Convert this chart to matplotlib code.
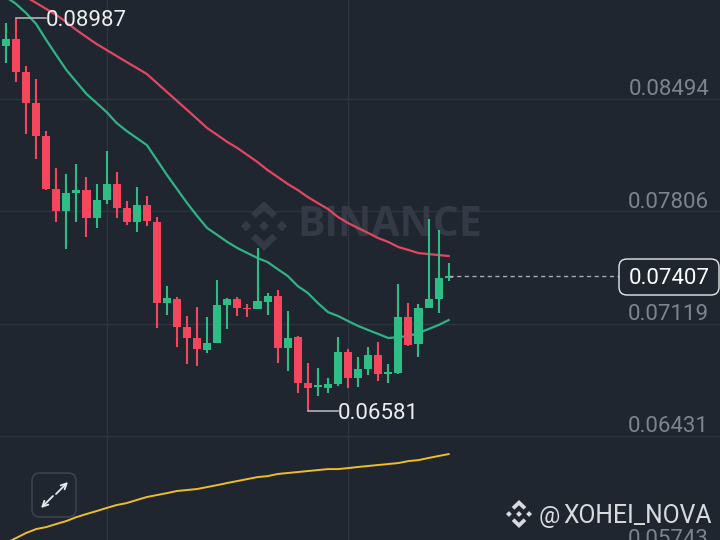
import matplotlib
matplotlib.use("Agg")
import matplotlib.pyplot as plt
from matplotlib.patches import FancyBboxPatch, Polygon
from matplotlib.transforms import Affine2D

opens = [8817,8860,8658,8469,8267,7942,7807,7918,7936,7765,7875,7973,7826,7740,7844,7740,7244,7269,7097,7030,6957,6999,7232,7269,7214,7208,7250,7287,6969,7036,6755,6730,6724,6749,6944,6785,6840,6926,6810,6816,7159,6993,7214,7269,7397]
highs = [8958,8987,8695,8615,8297,8071,8034,8095,8016,7973,8175,8046,7869,7954,7899,7771,7348,7281,7165,7220,7159,7385,7275,7281,7238,7581,7306,7324,7195,7042,6877,6846,6785,7036,6963,6914,6975,7006,6871,7361,7244,7238,7759,7691,7489]
lows = [8713,8597,8279,8126,7936,7740,7575,7740,7648,7703,7850,7765,7722,7679,7716,7091,7171,6975,6871,6859,6938,6999,7085,7165,7159,7208,7171,6877,6828,6693,6581,6675,6693,6736,6724,6730,6804,6767,6755,6810,6981,6914,7214,7183,7379]
closes = [8860,8658,8469,8267,7942,7807,7918,7936,7765,7875,7973,7826,7740,7844,7746,7244,7275,7097,7030,6963,6999,7232,7269,7214,7208,7257,7287,6969,7030,6755,6724,6742,6749,6944,6785,6840,6926,6810,6822,7159,6987,7214,7269,7397,7407]
ma_fast = [9117,9075,9019,8952,8854,8762,8671,8597,8524,8469,8413,8346,8297,8254,8211,8120,8028,7942,7856,7777,7703,7661,7618,7581,7550,7520,7495,7452,7410,7348,7306,7244,7189,7165,7134,7104,7079,7055,7030,7036,7042,7061,7085,7110,7140]
ma_mid = [9191,9154,9117,9081,9044,9007,8964,8915,8872,8830,8793,8756,8719,8683,8646,8591,8536,8481,8426,8371,8315,8273,8230,8193,8150,8107,8058,8016,7973,7936,7893,7856,7820,7771,7734,7703,7673,7642,7618,7587,7569,7550,7544,7538,7532]
ma_slow = [5775,5806,5837,5861,5873,5892,5910,5934,5953,5971,5990,6008,6020,6039,6057,6069,6081,6094,6100,6106,6118,6130,6143,6155,6167,6179,6185,6198,6204,6210,6216,6222,6228,6228,6234,6241,6247,6253,6259,6265,6277,6283,6296,6308,6320]
price_ticks = [0.08494, 0.07806, 0.07119, 0.06431, 0.05743]
time_grid = [10, 34]
high_label, low_label, last_price = 0.08987, 0.06581, 0.07407
scale = 1e-5

BG = "#1f2630"
GRID = "#2f353f"
UP = "#2ebd85"
DOWN = "#f6465d"
FONT = ["Roboto", "DejaVu Sans"]
LABEL_SIZE = 16

fig = plt.figure(figsize=(7.2, 5.4), dpi=100, facecolor=BG)
ax = fig.add_axes([0, 0, 1, 1], facecolor=BG)
ax.set_xlim(-0.596, 70.97)
ax.set_ylim(0.05794, 0.09099)
ax.axis("off")
px = Affine2D().scale(1 / 720, -1 / 540).translate(0, 1) + fig.transFigure

for p in price_ticks:
    ax.axhline(p, color=GRID, lw=1, zorder=1)
    ax.annotate(f"{p:.5f}", xy=(709 / 720, p), xycoords=("axes fraction", "data"),
                xytext=(0, 6.5), textcoords="offset points", ha="right", va="center",
                color="#7d848d", fontsize=LABEL_SIZE, family=FONT, zorder=6)
for t in time_grid:
    ax.axvline(t, color=GRID, lw=1, zorder=1)


def binance_logo(cx, cy, r, color, zorder):
    d = r * 0.21
    for dx, dy in [(0, 0), (-r * 0.72, 0), (r * 0.72, 0)]:
        ax.add_patch(Polygon([(cx + dx - d, cy + dy), (cx + dx, cy + dy - d),
                              (cx + dx + d, cy + dy), (cx + dx, cy + dy + d)],
                             closed=True, fc=color, ec="none", transform=px, zorder=zorder))
    w = r * 0.19
    for sy in (-1, 1):
        ax.add_patch(Polygon([(cx - r * 0.52, cy + sy * r * 0.5), (cx, cy + sy * r * 1.0),
                              (cx + r * 0.52, cy + sy * r * 0.5), (cx + r * 0.52 - w, cy + sy * (r * 0.5 - w)),
                              (cx, cy + sy * r * 0.62), (cx - r * 0.52 + w, cy + sy * (r * 0.5 - w))],
                             closed=True, fc=color, ec="none", transform=px, zorder=zorder))


binance_logo(264, 226, 25, "#343a45", 1.5)
ax.text(297, 225, "BINANCE", transform=px, color="#343a45", fontsize=29.5, fontweight="bold",
        family=["Open Sans", "DejaVu Sans"], ha="left", va="center", zorder=1.5)

idx = list(range(len(opens)))
ax.plot(idx, [v * scale for v in ma_slow], color="#efbd2a", lw=1.4, zorder=2)
ax.plot(idx, [v * scale for v in ma_mid], color="#e0485f", lw=1.6, zorder=2)
ax.plot(idx, [v * scale for v in ma_fast], color="#2fb384", lw=1.6, zorder=2)

for i, o, h, l, c in zip(idx, opens, highs, lows, closes):
    col = UP if c >= o else DOWN
    ax.vlines(i, l * scale, h * scale, color=col, lw=1.5, zorder=3)
    ax.bar(i, abs(c - o) * scale, width=0.8, bottom=min(o, c) * scale, color=col, zorder=3)

# Extreme labels
ax.plot([1, 4], [high_label] * 2, color="#aeb2b8", lw=1.2, zorder=4)
ax.annotate(f"{high_label:.5f}", xy=(4, high_label), xytext=(0, -1.8), textcoords="offset points",
            ha="left", va="center", color="#eceef0", fontsize=LABEL_SIZE, family=FONT, zorder=6)
ax.plot([30, 33], [low_label] * 2, color="#aeb2b8", lw=1.2, zorder=4)
ax.annotate(f"{low_label:.5f}", xy=(33, low_label), xytext=(0, -1.8), textcoords="offset points",
            ha="left", va="center", color="#eceef0", fontsize=LABEL_SIZE, family=FONT, zorder=6)

# Last-price line and tag
ax.plot([44, 61], [last_price] * 2, color="#a6abb2", lw=1, ls=(0, (3, 2.5)), zorder=4)
ax.add_patch(FancyBboxPatch((627, 267), 84, 20, boxstyle="round,pad=8",
                            fc=BG, ec="#e6e8ea", lw=1, transform=px, zorder=5))
ax.annotate(f"{last_price:.5f}", xy=(669 / 720, last_price), xycoords=("axes fraction", "data"),
            xytext=(0, -1.8), textcoords="offset points",
            ha="center", va="center", color="#ffffff", fontsize=LABEL_SIZE, family=FONT, zorder=6)

# Expand button
ax.add_patch(FancyBboxPatch((40, 481), 28, 28, boxstyle="round,pad=8",
                            fc=BG, ec="#3c424c", lw=1.2, transform=px, zorder=5))
ax.annotate("", xy=(68, 482), xytext=(56, 494), xycoords=px, textcoords=px,
            arrowprops=dict(arrowstyle="->", color="#e8eaec", lw=1.3, mutation_scale=10,
                            shrinkA=0, shrinkB=0), zorder=6)
ax.annotate("", xy=(41, 508), xytext=(53, 496), xycoords=px, textcoords=px,
            arrowprops=dict(arrowstyle="->", color="#e8eaec", lw=1.3, mutation_scale=10,
                            shrinkA=0, shrinkB=0), zorder=6)

# Watermark
binance_logo(519, 514, 14, "#d8dadd", 7)
ax.text(539, 516, "@", transform=px, color="#d8dadd", fontsize=17, family=FONT, ha="left", va="center", zorder=7)
ax.text(563, 516, "XOHEI_NOVA", transform=px, color="#d8dadd", fontsize=17.8, family=FONT, ha="left", va="center", zorder=7)

fig.savefig("out.png", dpi=100, facecolor=BG)
